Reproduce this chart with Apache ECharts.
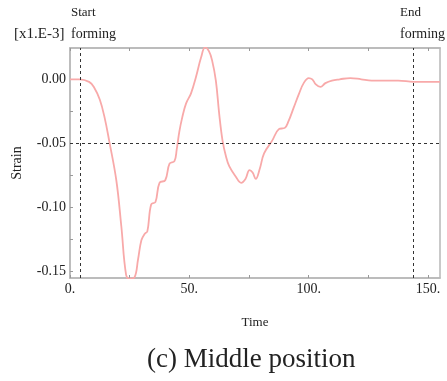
<!DOCTYPE html>
<html>
<head>
<meta charset="utf-8">
<script src="https://cdn.jsdelivr.net/npm/echarts@6/dist/echarts.min.js"></script>
<style>
  html, body { margin: 0; padding: 0; background: #fff; }
  #chart { width: 447px; height: 381px; }
</style>
</head>
<body>
<div id="chart"></div>
<script>
// time (s) and strain [x1.E-3]
var time = [0, 4, 8, 10, 12.5, 14.5, 16.4, 19.4, 21.5, 23.5, 25, 27, 28.5, 29.9, 31.25, 32.4, 34, 35.8, 37.5, 39.9,
  41.7, 43.75, 44.7, 45.8, 47, 48.6, 50.7, 52.8, 54.9, 56.6, 58.2, 59.5, 61.1, 62.5, 63.9, 65.3, 66.7, 69.4, 71.7,
  73.5, 75.2, 76.5, 77.8, 79.5, 81.3, 84.7, 87.5, 90, 91.5, 93.75, 96, 97.9, 100, 101.5, 103, 104.9, 107, 109.7,
  113, 117.4, 122, 126.4, 132, 137.5, 144, 150, 155]
var strain = [0, 0, -0.002, -0.006, -0.016, -0.030, -0.048, -0.079, -0.115, -0.153, -0.156, -0.155, -0.141, -0.126,
  -0.121, -0.119, -0.098, -0.096, -0.081, -0.079, -0.066, -0.064, -0.055, -0.041, -0.030, -0.019, -0.011, 0.002,
  0.017, 0.025, 0.022, 0.015, -0.001, -0.027, -0.048, -0.060, -0.068, -0.076, -0.081, -0.078, -0.071, -0.073,
  -0.078, -0.070, -0.058, -0.048, -0.039, -0.038, -0.033, -0.022, -0.011, -0.003, 0.001, 0.000, -0.004, -0.006,
  -0.003, -0.001, 0.000, 0.001, 0.000, -0.001, -0.001, -0.001, -0.002, -0.002, -0.002]
var xLabels = [0, 50, 100, 150]
var xTicks = [0, 25, 50, 75, 100, 125, 150]
var yLabels = [0, -0.05, -0.1, -0.15]
var yTicks = [0, -0.025, -0.05, -0.075, -0.1, -0.125, -0.15]
var startTime = 4.5
var endTime = 144
var refStrain = -0.05

var serif = 'Liberation Serif'
var chart = echarts.init(document.getElementById('chart'))

var pts = time.map(function (t, i) { return [t, strain[i]] })

var axisLineStyle = { show: true, onZero: false, lineStyle: { color: '#b8b8b8', width: 1.5 } }
var tickStyle = { show: true, inside: true, length: 3, lineStyle: { color: '#999' } }

var option = {
  animation: false,
  backgroundColor: '#fff',
  grid: {
    left: 70, right: 7, top: 48, bottom: 103,
    show: true, borderColor: '#b8b8b8', borderWidth: 1.5
  },
  xAxis: [
    {
      type: 'value', min: 0, max: 155,
      name: 'Time', nameLocation: 'middle', nameGap: 38,
      nameTextStyle: { fontFamily: serif, fontSize: 13, color: '#222' },
      axisLine: axisLineStyle,
      axisTick: Object.assign({ customValues: xTicks }, tickStyle),
      axisLabel: {
        customValues: xLabels, margin: 4,
        fontFamily: serif, fontSize: 14, color: '#222',
        formatter: function (v) { return v + '.' }
      },
      splitLine: { show: false }
    },
    {
      type: 'value', min: 0, max: 155, position: 'top',
      axisLine: axisLineStyle,
      axisTick: Object.assign({ customValues: xTicks }, tickStyle),
      axisLabel: { show: false },
      splitLine: { show: false }
    }
  ],
  yAxis: {
    type: 'value', min: -0.1555, max: 0.0245,
    name: 'Strain', nameLocation: 'middle', nameGap: 46,
    nameTextStyle: { fontFamily: serif, fontSize: 14, color: '#222' },
    axisLine: axisLineStyle,
    axisTick: Object.assign({ customValues: yTicks }, tickStyle),
    axisLabel: {
      customValues: yLabels, margin: 4,
      fontFamily: serif, fontSize: 14, color: '#222',
      formatter: function (v) { return v.toFixed(2) }
    },
    splitLine: { show: false }
  },
  series: [{
    type: 'line',
    data: pts,
    smooth: 0.4,
    showSymbol: false,
    lineStyle: { color: '#f8a9a9', width: 1.8 },
    markLine: {
      silent: true,
      symbol: 'none',
      label: { show: false },
      lineStyle: { color: '#333', type: [3, 3], width: 1 },
      data: [
        { xAxis: startTime },
        { xAxis: endTime },
        { yAxis: refStrain }
      ]
    }
  }],
  graphic: [
    { type: 'text', left: 71, top: 6, style: { text: 'Start', font: '13px "Liberation Serif"', fill: '#222' } },
    { type: 'text', left: 71, top: 27, style: { text: 'forming', font: '14px "Liberation Serif"', fill: '#222' } },
    { type: 'text', left: 14, top: 27, style: { text: '[x1.E-3]', font: '15px "Liberation Serif"', fill: '#222' } },
    { type: 'text', left: 400, top: 6, style: { text: 'End', font: '13px "Liberation Serif"', fill: '#222' } },
    { type: 'text', left: 400, top: 27, style: { text: 'forming', font: '14px "Liberation Serif"', fill: '#222' } },
    { type: 'text', left: 147, top: 346, style: { text: '(c) Middle position', font: '27px "Liberation Serif"', fill: '#222' } }
  ]
}

chart.setOption(option)
</script>
</body>
</html>
